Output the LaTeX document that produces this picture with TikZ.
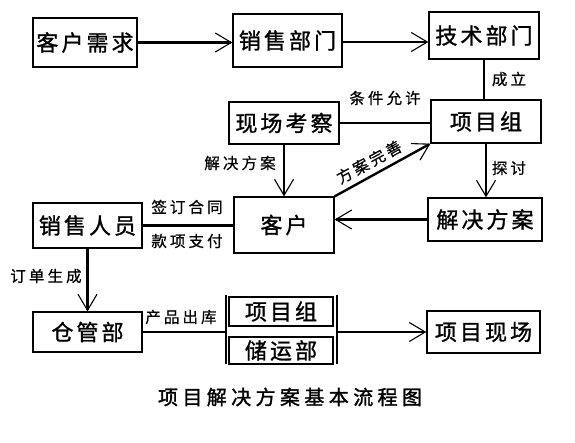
\documentclass[tikz,border=0pt]{standalone}
\usepackage{fontspec}
\setmainfont{Noto Sans CJK SC}
\newfontfamily\boxf[LetterSpace=14,FakeBold=1.2]{Noto Sans CJK SC}
\newfontfamily\labf[LetterSpace=20,FakeBold=0.6]{Noto Sans CJK SC}
\newfontfamily\titf[LetterSpace=22,FakeBold=1.6]{Noto Sans CJK SC}
\usetikzlibrary{arrows.meta}
\tikzset{
  box/.style={draw, line width=1.3pt, rectangle, inner sep=0pt, font=\boxf\fontsize{22}{22}\selectfont},
  lab/.style={inner sep=0pt, font=\labf\fontsize{15.5}{15.5}\selectfont},
  conn/.style={line width=2.4pt},
  arr/.style={line width=2.4pt, -{Straight Barb[length=16pt,width=19pt,line width=1.1pt]}},
}
\begin{document}
\begin{tikzpicture}[x=1pt,y=-1pt]
\fill[white] (0,0) rectangle (575,442);
\useasboundingbox (0,0) rectangle (575,442);
% boxes
\node[box, minimum width=104pt, minimum height=49pt] (kh) at (85,42.5) {客户需求};
\node[box, minimum width=109pt, minimum height=53pt] (xs) at (287.5,40.5) {销售部门};
\node[box, minimum width=110pt, minimum height=47pt] (js) at (484,35.5) {技术部门};
\node[box, minimum width=110pt, minimum height=42pt] (xc) at (284,123) {现场考察};
\node[box, minimum width=110pt, minimum height=43pt] (xm) at (486,121.5) {项目组};
\node[box, minimum width=114pt, minimum height=43pt] (fa) at (485,219.5) {解决方案};
\node[box, minimum width=100pt, minimum height=56pt] (kf) at (284,225) {客户};
\node[box, minimum width=109pt, minimum height=45pt] (ry) at (87.5,225.5) {销售人员};
\node[box, minimum width=109pt, minimum height=40pt] (cg) at (87.5,332) {仓管部};
\node[box, minimum width=104pt, minimum height=29pt] (pm) at (281,311.5) {项目组};
\node[box, minimum width=104pt, minimum height=27pt] (cy) at (281,350.5) {储运部};
\node[box, minimum width=113pt, minimum height=42pt] (xx) at (483.5,332) {项目现场};
% bars
\coordinate (bLt) at (226,295);
\coordinate (bLb) at (226,364);
\coordinate (bRt) at (337,295);
\coordinate (bRb) at (337,364);
\draw[line width=2.4pt] (bLt) -- (bLb);
\draw[line width=2.4pt] (bRt) -- (bRb);
% connectors
\draw[arr] (kh.east) -- (kh.east -| xs.west);
\draw[arr] (xs.east) ++(0,1.5) coordinate (t1) -- (t1 -| js.west);
\draw[conn] (js.south) -- (js.south |- xm.north);
\draw[conn] (xc.east) -- (xc.east -| xm.west);
\draw[arr] (xc.south) -- (xc.south |- kf.north);
\draw[arr] (kf.north east) -- (xm.south west);
\draw[arr] (xm.south) -- (xm.south |- fa.north);
\draw[arr] (fa.west) -- (fa.west -| kf.east);
\draw[conn] (ry.east) -- (ry.east -| kf.west);
\draw[arr] (ry.south) -- (ry.south |- cg.north);
\draw[conn] (cg.east) -- (cg.east -| bLt);
\coordinate (bm) at (337,332);
\draw[arr] (bm) -- (bm -| xx.west);
% labels
\node[lab] (l1) at (509,79) {成立};
\node[lab] (l2) at (385,98) {条件允许};
\node[lab] (l3) at (240,163) {解决方案};
\node[lab, rotate=28.6] (l4) at (369,162) {方案完善};
\node[lab] (l5) at (509,168) {探讨};
\node[lab] (l6) at (187,207) {签订合同};
\node[lab] (l7) at (187,241) {款项支付};
\node[lab] (l8) at (46,276) {订单生成};
\node[lab] (l9) at (181,317) {产品出库};
\node[inner sep=0pt, font=\titf\fontsize{20}{20}\selectfont] (tt) at (290,397) {项目解决方案基本流程图};
\end{tikzpicture}
\end{document}
